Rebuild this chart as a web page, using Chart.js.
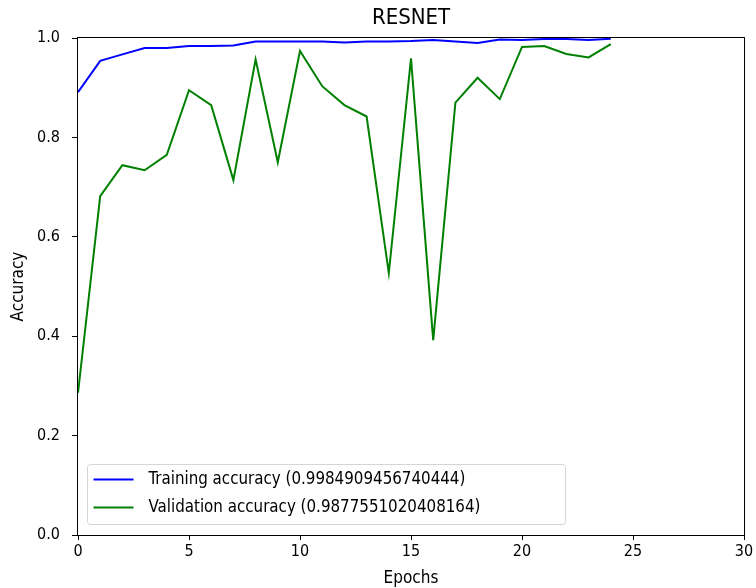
<!DOCTYPE html>
<html>
<head>
<meta charset="utf-8">
<script src="https://cdn.jsdelivr.net/npm/chart.js@4/dist/chart.umd.min.js"></script>
<style>
  html, body { margin: 0; padding: 0; background: #fff; }
</style>
</head>
<body>
<canvas id="c" width="756" height="588"></canvas>
<script>
// Per-epoch accuracy of the ResNet run
const epochs = [0, 1, 2, 3, 4, 5, 6, 7, 8, 9, 10, 11, 12, 13, 14, 15, 16, 17, 18, 19, 20, 21, 22, 23, 24];
const trainAcc = [0.891, 0.954, 0.967, 0.980, 0.980, 0.984, 0.984, 0.985, 0.993, 0.993, 0.993, 0.993, 0.991,
                  0.993, 0.993, 0.994, 0.996, 0.993, 0.990, 0.997, 0.996, 0.998, 0.998, 0.996, 0.9984909456740444];
const valAcc = [0.286, 0.682, 0.744, 0.734, 0.765, 0.895, 0.865, 0.714, 0.957, 0.750, 0.974, 0.903, 0.865,
                0.842, 0.527, 0.959, 0.392, 0.870, 0.920, 0.877, 0.982, 0.984, 0.968, 0.961, 0.9877551020408164];
const xTicks = [0, 5, 10, 15, 20, 25, 30];
const yTicks = [0.0, 0.2, 0.4, 0.6, 0.8, 1.0];

// Use the condensed DejaVu face when present, otherwise the regular one at a smaller size
function hasFont(name) {
  const c = document.createElement('canvas').getContext('2d');
  const s = 'Training accuracy 0123456789';
  c.font = '40px monospace';
  const a = c.measureText(s).width;
  c.font = "40px '" + name + "', monospace";
  return Math.abs(c.measureText(s).width - a) > 0.5;
}
const condensed = hasFont('DejaVu Sans Condensed');
const FONT = condensed ? "'DejaVu Sans Condensed', 'DejaVu Sans', sans-serif" : "'DejaVu Sans', sans-serif";
const K = condensed ? 1 : 0.9;
const SZ = {
  title: Math.round(22 * K),
  tick: Math.round(16 * K),
  axis: Math.round(17 * K),
  legend: Math.round(16.8 * K * 10) / 10
};

const toPoints = ys => epochs.map((e, i) => ({ x: e, y: ys[i] }));

// Frame around the plotting area plus title and an in-plot legend
const framePlugin = {
  id: 'frame',
  afterDraw(chart) {
    const { ctx, chartArea: a } = chart;
    ctx.save();
    ctx.strokeStyle = '#000';
    ctx.lineWidth = 1;
    ctx.strokeRect(Math.round(a.left) - 0.5, Math.round(a.top) - 0.5,
                   Math.round(a.right - a.left) + 1, Math.round(a.bottom - a.top) + 1);

    // title
    ctx.fillStyle = '#000';
    ctx.font = SZ.title + 'px ' + FONT;
    ctx.textAlign = 'center';
    ctx.textBaseline = 'middle';
    ctx.fillText('RESNET', (a.left + a.right) / 2, 18);

    // legend (lower left)
    const items = chart.data.datasets;
    ctx.font = SZ.legend + 'px ' + FONT;
    const boxX = a.left + 9.5, boxY = 464.5, boxH = 60, rowH = 28;
    const boxW = 478;
    ctx.beginPath();
    ctx.roundRect(boxX, boxY, boxW, boxH, 3);
    ctx.fillStyle = 'rgba(255,255,255,0.8)';
    ctx.fill();
    ctx.strokeStyle = '#d5d5d5';
    ctx.lineWidth = 1;
    ctx.stroke();
    items.forEach((d, i) => {
      const y = boxY + 15 + i * rowH;
      ctx.beginPath();
      ctx.moveTo(boxX + 6, y);
      ctx.lineTo(boxX + 46, y);
      ctx.strokeStyle = d.borderColor;
      ctx.lineWidth = 2;
      ctx.stroke();
      ctx.fillStyle = '#000';
      ctx.textAlign = 'left';
      ctx.textBaseline = 'middle';
      ctx.fillText(d.label, boxX + 61, y);
    });
    ctx.restore();
  }
};

new Chart(document.getElementById('c'), {
  type: 'line',
  data: {
    datasets: [
      {
        label: 'Training accuracy (' + trainAcc[trainAcc.length - 1] + ')',
        data: toPoints(trainAcc),
        borderColor: '#0000ff',
        borderWidth: 2,
        pointRadius: 0,
        tension: 0,
        fill: false
      },
      {
        label: 'Validation accuracy (' + valAcc[valAcc.length - 1] + ')',
        data: toPoints(valAcc),
        borderColor: '#008000',
        borderWidth: 2,
        pointRadius: 0,
        tension: 0,
        fill: false
      }
    ]
  },
  options: {
    responsive: false,
    animation: false,
    layout: { padding: { left: 0, right: 12, top: 38, bottom: 0 } },
    plugins: {
      legend: { display: false },
      title: { display: false },
      tooltip: { enabled: false }
    },
    scales: {
      x: {
        type: 'linear',
        min: 0,
        max: 30,
        afterFit(scale) { scale.height = 53; },
        afterBuildTicks(scale) { scale.ticks = xTicks.map(v => ({ value: v })); },
        grid: { display: true, drawOnChartArea: false, drawTicks: true, tickLength: 5, color: '#000', tickColor: '#000' },
        border: { display: false },
        ticks: { color: '#000', font: { family: FONT, size: SZ.tick }, padding: 2, maxRotation: 0,
                 callback: v => String(v) },
        title: { display: true, text: 'Epochs', color: '#000', font: { family: FONT, size: SZ.axis }, padding: { top: 0, bottom: -1 } }
      },
      y: {
        type: 'linear',
        min: 0,
        max: 1,
        afterFit(scale) { scale.width = 78; },
        afterBuildTicks(scale) { scale.ticks = yTicks.map(v => ({ value: v })); },
        grid: { display: true, drawOnChartArea: false, drawTicks: true, tickLength: 6, color: '#000', tickColor: '#000' },
        border: { display: false },
        ticks: { color: '#000', font: { family: FONT, size: SZ.tick }, padding: 12,
                 callback: v => v.toFixed(1) },
        title: { display: true, text: 'Accuracy', color: '#000', font: { family: FONT, size: SZ.axis }, padding: { top: 8, bottom: 0 } }
      }
    }
  },
  plugins: [framePlugin]
});
</script>
</body>
</html>
